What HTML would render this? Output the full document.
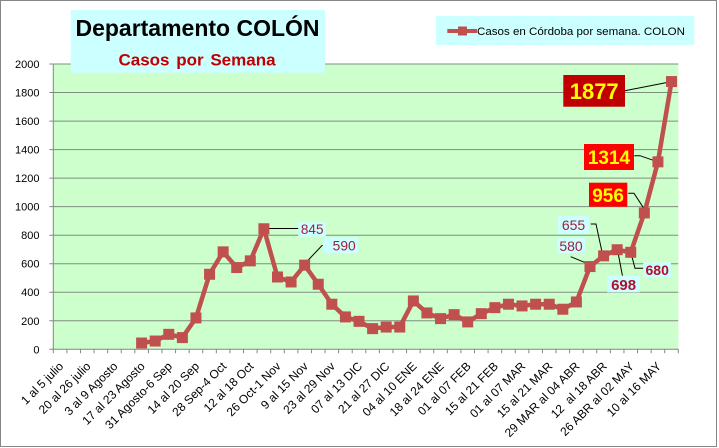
<!DOCTYPE html>
<html><head><meta charset="utf-8"><style>
html,body{margin:0;padding:0;background:#fff;}
svg{display:block;font-family:"Liberation Sans",Arial,sans-serif;}
</style></head><body>
<svg width="719" height="448" viewBox="0 0 719 448" xmlns="http://www.w3.org/2000/svg">
<rect x="0" y="0" width="719" height="448" fill="#fff"/>
<rect x="0.5" y="0.5" width="716" height="446" fill="#fff" stroke="#868686" stroke-width="1"/>
<!-- plot area -->
<rect x="53.3" y="64" width="625" height="285.3" fill="#ccffcc"/>
<g stroke="#7f8f7f" stroke-width="1" fill="none">
<path d="M53.3 64H678.3M53.3 92.5H678.3M53.3 121.1H678.3M53.3 149.6H678.3M53.3 178.1H678.3M53.3 206.6H678.3M53.3 235.2H678.3M53.3 263.7H678.3M53.3 292.2H678.3M53.3 320.8H678.3"/>
</g>
<g stroke="#868686" stroke-width="1" fill="none">
<path d="M53.3 64V349.3H678.3"/>
<path d="M49.3 64H53.3M49.3 92.5H53.3M49.3 121.1H53.3M49.3 149.6H53.3M49.3 178.1H53.3M49.3 206.6H53.3M49.3 235.2H53.3M49.3 263.7H53.3M49.3 292.2H53.3M49.3 320.8H53.3M49.3 349.3H53.3"/>
<path d="M53.3 349.3v4M66.89 349.3v4M80.47 349.3v4M94.06 349.3v4M107.65 349.3v4M121.24 349.3v4M134.82 349.3v4M148.41 349.3v4M162 349.3v4M175.58 349.3v4M189.17 349.3v4M202.76 349.3v4M216.34 349.3v4M229.93 349.3v4M243.52 349.3v4M257.11 349.3v4M270.69 349.3v4M284.28 349.3v4M297.87 349.3v4M311.45 349.3v4M325.04 349.3v4M338.63 349.3v4M352.21 349.3v4M365.8 349.3v4M379.39 349.3v4M392.98 349.3v4M406.56 349.3v4M420.15 349.3v4M433.74 349.3v4M447.32 349.3v4M460.91 349.3v4M474.5 349.3v4M488.08 349.3v4M501.67 349.3v4M515.26 349.3v4M528.85 349.3v4M542.43 349.3v4M556.02 349.3v4M569.61 349.3v4M583.19 349.3v4M596.78 349.3v4M610.37 349.3v4M623.95 349.3v4M637.54 349.3v4M651.13 349.3v4M664.72 349.3v4M678.3 349.3v4"/>
</g>
<!-- y labels -->
<g font-size="11" fill="#000" text-anchor="end">
<text x="39.5" y="68">2000</text>
<text x="39.5" y="96.5">1800</text>
<text x="39.5" y="125.1">1600</text>
<text x="39.5" y="153.6">1400</text>
<text x="39.5" y="182.1">1200</text>
<text x="39.5" y="210.6">1000</text>
<text x="39.5" y="239.2">800</text>
<text x="39.5" y="267.7">600</text>
<text x="39.5" y="296.2">400</text>
<text x="39.5" y="324.8">200</text>
<text x="39.5" y="353.3">0</text>
</g>
<!-- x labels -->
<g font-size="12" fill="#000" text-anchor="end">
<text transform="translate(64.1,367) rotate(-45)">1 al 5 julio</text>
<text transform="translate(91.3,367) rotate(-45)">20 al 26 julio</text>
<text transform="translate(118.4,367) rotate(-45)">3 al 9 Agosto</text>
<text transform="translate(145.6,367) rotate(-45)">17 al 23 Agosto</text>
<text transform="translate(172.8,367) rotate(-45)">31 Agosto-6 Sep</text>
<text transform="translate(200,367) rotate(-45)">14 al 20 Sep</text>
<text transform="translate(227.1,367) rotate(-45)">28 Sep-4 Oct</text>
<text transform="translate(254.3,367) rotate(-45)">12 al 18 Oct</text>
<text transform="translate(281.5,367) rotate(-45)">26 Oct-1 Nov</text>
<text transform="translate(308.7,367) rotate(-45)">9 al 15 Nov</text>
<text transform="translate(335.8,367) rotate(-45)">23 al 29 Nov</text>
<text transform="translate(363,367) rotate(-45)">07 al 13 DIC</text>
<text transform="translate(390.2,367) rotate(-45)">21 al 27 DIC</text>
<text transform="translate(417.4,367) rotate(-45)">04 al 10 ENE</text>
<text transform="translate(444.5,367) rotate(-45)">18 al 24 ENE</text>
<text transform="translate(471.7,367) rotate(-45)">01 al 07 FEB</text>
<text transform="translate(498.9,367) rotate(-45)">15 al 21 FEB</text>
<text transform="translate(526.1,367) rotate(-45)">01 al 07 MAR</text>
<text transform="translate(553.2,367) rotate(-45)">15 al 21 MAR</text>
<text transform="translate(580.4,367) rotate(-45)">29 MAR al 04 ABR</text>
<text transform="translate(607.6,367) rotate(-45)">12&#160; al 18 ABR</text>
<text transform="translate(634.8,367) rotate(-45)">26 ABR al 02 MAY</text>
<text transform="translate(661.9,367) rotate(-45)">10 al 16 MAY</text>
</g>
<!-- leader lines -->
<g stroke="#000" stroke-width="1" fill="none">
<path d="M625 90.7L667 82.5"/>
<path d="M634.3 155.7H640L657.3 161.7"/>
<path d="M628.3 193.3H634L646 211.7"/>
<path d="M590.7 224H596L602.3 253.3"/>
<path d="M570.7 256.7L589.3 264.3"/>
<path d="M617.3 249L622.5 276"/>
<path d="M631.5 255L635 268.3H643.3"/>
<path d="M265 228.5H298.3"/>
<path d="M305 263.5L322 245.5H323.3"/>
</g>
<!-- series -->
<polyline fill="none" stroke="#c0504d" stroke-width="4.5" stroke-linejoin="round" points="141.62,343.02 155.2,341.03 168.79,334.32 182.38,337.6 195.96,317.92 209.55,274.27 223.14,251.87 236.73,267.56 250.31,260.86 263.9,228.76 277.49,276.98 291.07,281.97 304.66,265.14 318.25,284.25 331.84,304.22 345.42,316.92 359.01,321.34 372.6,328.62 386.18,327.05 399.77,327.05 413.36,300.94 426.94,312.92 440.53,318.63 454.12,314.64 467.71,321.91 481.29,313.64 494.88,307.65 508.47,304.22 522.05,305.93 535.64,304.22 549.23,304.22 562.81,309.22 576.4,301.94 589.99,266.56 603.58,255.86 617.16,249.73 630.75,252.3 644.34,212.93 657.92,161.86 671.51,81.55"/>
<g fill="#c0504d">
<rect x="136.12" y="337.52" width="11" height="11"/>
<rect x="149.7" y="335.53" width="11" height="11"/>
<rect x="163.29" y="328.82" width="11" height="11"/>
<rect x="176.88" y="332.1" width="11" height="11"/>
<rect x="190.46" y="312.42" width="11" height="11"/>
<rect x="204.05" y="268.77" width="11" height="11"/>
<rect x="217.64" y="246.37" width="11" height="11"/>
<rect x="231.23" y="262.06" width="11" height="11"/>
<rect x="244.81" y="255.36" width="11" height="11"/>
<rect x="258.4" y="223.26" width="11" height="11"/>
<rect x="271.99" y="271.48" width="11" height="11"/>
<rect x="285.57" y="276.47" width="11" height="11"/>
<rect x="299.16" y="259.64" width="11" height="11"/>
<rect x="312.75" y="278.75" width="11" height="11"/>
<rect x="326.34" y="298.72" width="11" height="11"/>
<rect x="339.92" y="311.42" width="11" height="11"/>
<rect x="353.51" y="315.84" width="11" height="11"/>
<rect x="367.1" y="323.12" width="11" height="11"/>
<rect x="380.68" y="321.55" width="11" height="11"/>
<rect x="394.27" y="321.55" width="11" height="11"/>
<rect x="407.86" y="295.44" width="11" height="11"/>
<rect x="421.44" y="307.42" width="11" height="11"/>
<rect x="435.03" y="313.13" width="11" height="11"/>
<rect x="448.62" y="309.14" width="11" height="11"/>
<rect x="462.21" y="316.41" width="11" height="11"/>
<rect x="475.79" y="308.14" width="11" height="11"/>
<rect x="489.38" y="302.15" width="11" height="11"/>
<rect x="502.97" y="298.72" width="11" height="11"/>
<rect x="516.55" y="300.43" width="11" height="11"/>
<rect x="530.14" y="298.72" width="11" height="11"/>
<rect x="543.73" y="298.72" width="11" height="11"/>
<rect x="557.31" y="303.72" width="11" height="11"/>
<rect x="570.9" y="296.44" width="11" height="11"/>
<rect x="584.49" y="261.06" width="11" height="11"/>
<rect x="598.08" y="250.36" width="11" height="11"/>
<rect x="611.66" y="244.23" width="11" height="11"/>
<rect x="625.25" y="246.8" width="11" height="11"/>
<rect x="638.84" y="207.43" width="11" height="11"/>
<rect x="652.42" y="156.36" width="11" height="11"/>
<rect x="666.01" y="76.05" width="11" height="11"/>
</g>
<!-- data labels -->
<rect x="563.3" y="75" width="61.7" height="31.7" fill="#c00000"/>
<text x="594.2" y="99" font-size="22" font-weight="bold" fill="#ffff00" text-anchor="middle">1877</text>
<rect x="584" y="144" width="50" height="26" fill="#ff0000"/>
<text x="609" y="164" font-size="19" font-weight="bold" fill="#ffff00" text-anchor="middle">1314</text>
<rect x="589" y="182.7" width="38.3" height="24" fill="#ff0000"/>
<text x="608.1" y="202" font-size="19" font-weight="bold" fill="#ffff00" text-anchor="middle">956</text>
<rect x="558" y="216" width="31" height="18" fill="#ccffff"/>
<text x="573.5" y="230" font-size="14" fill="#a0203c" text-anchor="middle">655</text>
<rect x="557" y="238" width="28" height="15" fill="#ccffff"/>
<text x="571" y="251" font-size="14" fill="#a0203c" text-anchor="middle">580</text>
<rect x="607.3" y="275.7" width="32.7" height="16.6" fill="#ccffff"/>
<text x="623.6" y="290" font-size="15" font-weight="bold" fill="#b0102c" text-anchor="middle">698</text>
<rect x="643.3" y="262.3" width="27.7" height="15" fill="#ccffff"/>
<text x="657.2" y="275" font-size="14" font-weight="bold" fill="#b0102c" text-anchor="middle">680</text>
<rect x="298.3" y="222.3" width="27.7" height="14.4" fill="#ccffff"/>
<text x="312.2" y="234" font-size="13.5" fill="#a0203c" text-anchor="middle">845</text>
<rect x="322.7" y="237.7" width="35.6" height="15.6" fill="#ccffff"/>
<text x="344.2" y="250.5" font-size="13.8" fill="#a0203c" text-anchor="middle">590</text>
<!-- title -->
<rect x="70.7" y="10" width="254.3" height="62.7" fill="#ccffff"/>
<text x="197.5" y="36" font-size="23" font-weight="bold" fill="#000" text-anchor="middle">Departamento COLÓN</text>
<text x="197" y="65.5" font-size="17" font-weight="bold" fill="#c00000" text-anchor="middle" word-spacing="2">Casos por Semana</text>
<!-- legend -->
<rect x="436" y="16" width="258.3" height="29" fill="#ccffff"/>
<line x1="447.3" y1="31" x2="477" y2="31" stroke="#c0504d" stroke-width="4"/>
<rect x="458" y="26.5" width="9" height="9" fill="#c0504d"/>
<text x="477" y="35" font-size="11" fill="#000" textLength="208" lengthAdjust="spacingAndGlyphs">Casos en Córdoba por semana. COLON</text>
</svg>
</body></html>
